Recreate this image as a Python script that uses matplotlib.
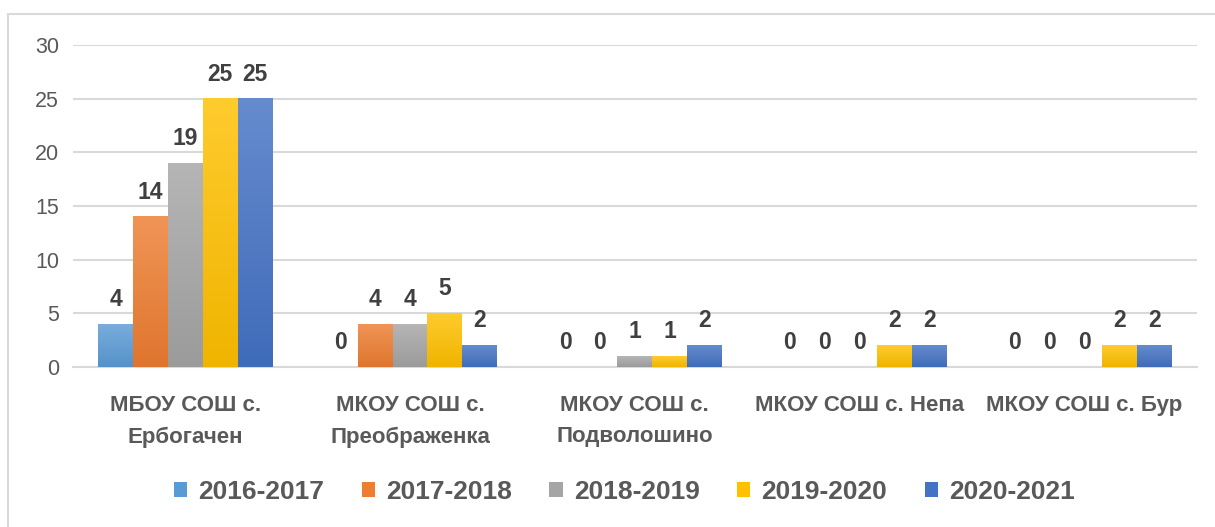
import numpy as np
import matplotlib.pyplot as plt
from matplotlib.patches import Rectangle
from matplotlib.colors import LinearSegmentedColormap, to_rgb

plt.rcParams['font.family'] = ['Liberation Sans', 'DejaVu Sans']

schools = ["МБОУ СОШ с.\nЕрбогачен", "МКОУ СОШ с.\nПреображенка", "МКОУ СОШ с.\nПодволошино",
           "МКОУ СОШ с. Непа", "МКОУ СОШ с. Бур"]
years = ["2016-2017", "2017-2018", "2018-2019", "2019-2020", "2020-2021"]
v2016 = [4, 0, 0, 0, 0]
v2017 = [14, 4, 0, 0, 0]
v2018 = [19, 4, 1, 0, 0]
v2019 = [25, 5, 1, 2, 2]
v2020 = [25, 2, 2, 2, 2]
series = [v2016, v2017, v2018, v2019, v2020]
colors = ["#5B9BD5", "#ED7D31", "#A5A5A5", "#FFC000", "#4472C4"]


def blend(c, other, t):
    a = np.array(to_rgb(c))
    return tuple(a * (1 - t) + np.array(other) * t)


fig = plt.figure(figsize=(12.15, 5.27), dpi=100)
fig.patches.append(Rectangle((8 / 1215, -0.1), 1.2, 1.1 - 14 / 527, transform=fig.transFigure,
                             fill=False, edgecolor="#D9D9D9", linewidth=1.5))
ax = fig.add_axes([0.060, 0.3036, 0.925, 0.611])

x = np.arange(len(schools))
w = 0.155
grad = np.linspace(1, 0, 100).reshape(-1, 1)
for i, (vals, c, yr) in enumerate(zip(series, colors, years)):
    pos = x + (i - 2) * w
    bars = ax.bar(pos, vals, w, color=c, label=yr, zorder=3)
    # soft vertical gradient like the Office fill
    cmap = LinearSegmentedColormap.from_list("g", [blend(c, (0, 0, 0), 0.06), blend(c, (1, 1, 1), 0.18)])
    for b in bars:
        if b.get_height() > 0:
            ax.imshow(grad, extent=[b.get_x(), b.get_x() + b.get_width(), 0, b.get_height()],
                      aspect="auto", cmap=cmap, vmin=0, vmax=1, zorder=3.5, interpolation="bilinear")
    for p, v in zip(pos, vals):
        ax.annotate(f"{v}", (p, v), xytext=(0, 13), textcoords="offset points",
                    ha="center", va="baseline", fontsize=16.5, fontweight="bold", color="#404040")

ax.set_xlim(-0.5, len(schools) - 0.5)
ax.set_ylim(0, 30)
ax.set_yticks(range(0, 31, 5))
ax.yaxis.grid(True, color="#D9D9D9", linewidth=1.5, zorder=0)
ax.set_axisbelow(True)
for s in ["top", "right", "left"]:
    ax.spines[s].set_visible(False)
ax.spines["bottom"].set_color("#D9D9D9")
ax.spines["bottom"].set_linewidth(1.5)
ax.tick_params(axis="y", length=0, pad=10, labelsize=15.5, labelcolor="#595959")
ax.tick_params(axis="x", length=0, pad=20)
ax.set_xticks(x)
ax.set_xticklabels(schools, fontsize=16, fontweight="bold", color="#595959", linespacing=1.66)

ax.legend(loc="center", bbox_to_anchor=(0.4907, -0.388), ncol=5, frameon=False,
          prop={"size": 19, "weight": "bold"},
          labelcolor="#595959", handlelength=0.5, handleheight=0.5,
          columnspacing=1.42, handletextpad=0.42)

fig.savefig("out.png", dpi=100)
